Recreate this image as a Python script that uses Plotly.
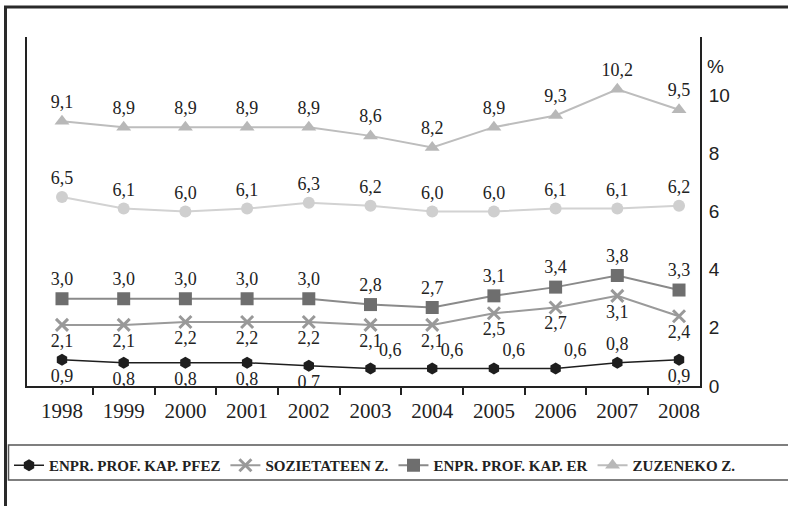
import plotly.graph_objects as go

years = ["1998", "1999", "2000", "2001", "2002", "2003", "2004", "2005", "2006", "2007", "2008"]

pfez = [0.9, 0.8, 0.8, 0.8, 0.7, 0.6, 0.6, 0.6, 0.6, 0.8, 0.9]
sozietateen = [2.1, 2.1, 2.2, 2.2, 2.2, 2.1, 2.1, 2.5, 2.7, 3.1, 2.4]
er = [3.0, 3.0, 3.0, 3.0, 3.0, 2.8, 2.7, 3.1, 3.4, 3.8, 3.3]
besteak = [6.5, 6.1, 6.0, 6.1, 6.3, 6.2, 6.0, 6.0, 6.1, 6.1, 6.2]
zuzeneko = [9.1, 8.9, 8.9, 8.9, 8.9, 8.6, 8.2, 8.9, 9.3, 10.2, 9.5]

y_ticks = [0, 2, 4, 6, 8, 10]
between_ticks = [0.5, 1.5, 2.5, 3.5, 4.5, 5.5, 6.5, 7.5, 8.5, 9.5]

names = ["ENPR. PROF. KAP. PFEZ", "SOZIETATEEN Z.", "ENPR. PROF. KAP. ER", "ZUZENEKO Z."]


def lbl(v):
    return [f"{x:.1f}".replace(".", ",") for x in v]


label_font = dict(family="Liberation Serif", size=18, color="#222222")

fig = go.Figure()

fig.add_trace(go.Scatter(
    x=years, y=besteak, mode="lines+markers+text", showlegend=False,
    line=dict(color="#d2d2d2", width=2),
    marker=dict(symbol="circle", size=12, color="#cfcfcf"),
    text=lbl(besteak), textposition="top center", textfont=label_font,
    name=""))

fig.add_trace(go.Scatter(
    x=years, y=zuzeneko, mode="lines+markers+text", name=names[3], legendrank=4,
    line=dict(color="#bdbdbd", width=2),
    marker=dict(symbol="triangle-up", size=13, color="#b8b8b8"),
    text=lbl(zuzeneko), textposition="top center", textfont=label_font))

fig.add_trace(go.Scatter(
    x=years, y=er, mode="lines+markers+text", name=names[2], legendrank=3,
    line=dict(color="#8a8a8a", width=2),
    marker=dict(symbol="square", size=13, color="#6e6e6e"),
    text=lbl(er), textposition="top center", textfont=label_font))

fig.add_trace(go.Scatter(
    x=years, y=sozietateen, mode="lines+markers+text", name=names[1], legendrank=2,
    line=dict(color="#9a9a9a", width=2),
    marker=dict(symbol="x-thin", size=12, color="#999999",
                line=dict(color="#999999", width=3)),
    text=lbl(sozietateen), textposition="bottom center", textfont=label_font))

pfez_pos = ["bottom center"] * 5 + ["top right"] * 4 + ["top center", "bottom center"]
fig.add_trace(go.Scatter(
    x=years, y=pfez, mode="lines+markers+text", name=names[0], legendrank=1,
    line=dict(color="#1e1e1e", width=1.5),
    marker=dict(symbol="hexagon", size=12, color="#1e1e1e"),
    text=lbl(pfez), textposition=pfez_pos, textfont=label_font))

# invisible trace on overlay axis for between-category ticks
fig.add_trace(go.Scatter(x=[0], y=[0], xaxis="x2", mode="markers",
                         marker=dict(opacity=0), showlegend=False, hoverinfo="skip"))

x_range = [-0.567, 10.34]

fig.update_layout(
    width=788, height=506,
    margin=dict(l=27, r=88, t=37, b=120, autoexpand=False),
    paper_bgcolor="white", plot_bgcolor="white",
    showlegend=True,
    legend=dict(orientation="h", x=(741 - 27) / 673, y=-(449 - 386) / 349,
                xanchor="right", yanchor="top",
                font=dict(family="Liberation Serif", size=15, color="#222222", weight="bold"),
                bgcolor="rgba(0,0,0,0)", borderwidth=0, itemwidth=30),
    xaxis=dict(type="category", range=x_range, showgrid=False, zeroline=False,
               showline=True, linecolor="#222222", linewidth=2,
               ticks="", tickfont=dict(family="Liberation Serif", size=21, color="#222222"),
               ticklabelstandoff=5),
    xaxis2=dict(overlaying="x", anchor="y", side="bottom", range=x_range,
                tickvals=between_ticks, ticks="outside", ticklen=8, tickwidth=2,
                tickcolor="#222222", showticklabels=False, showgrid=False,
                zeroline=False, showline=False),
    yaxis=dict(range=[0, 12], side="right", tickvals=y_ticks, showgrid=False,
               zeroline=False, showline=True, mirror=True, linecolor="#222222",
               linewidth=2, ticks="",
               tickfont=dict(family="Liberation Sans", size=19, color="#222222"),
               ticklabelstandoff=3),
    annotations=[dict(text="%", xref="x domain", yref="y", x=1, y=11.0,
                      xanchor="left", yanchor="middle", xshift=5, showarrow=False,
                      font=dict(family="Liberation Sans", size=19, color="#222222"))],
    shapes=[
        # outer frame
        dict(type="rect", xref="paper", yref="paper",
             x0=(5.5 - 27) / 673, x1=(800 - 27) / 673,
             y0=(386 - 520) / 349, y1=(386 - 7) / 349,
             line=dict(color="#2a2a2a", width=3), layer="below"),
        # legend box
        dict(type="rect", xref="paper", yref="paper",
             x0=(8.5 - 27) / 673, x1=(800 - 27) / 673,
             y0=(386 - 480) / 349, y1=(386 - 445) / 349,
             line=dict(color="#555555", width=1.5), layer="below"),
    ],
)

fig.write_html("out.html", config={"displayModeBar": False},
               post_script="document.body.style.margin='0';document.body.style.overflow='hidden';")
